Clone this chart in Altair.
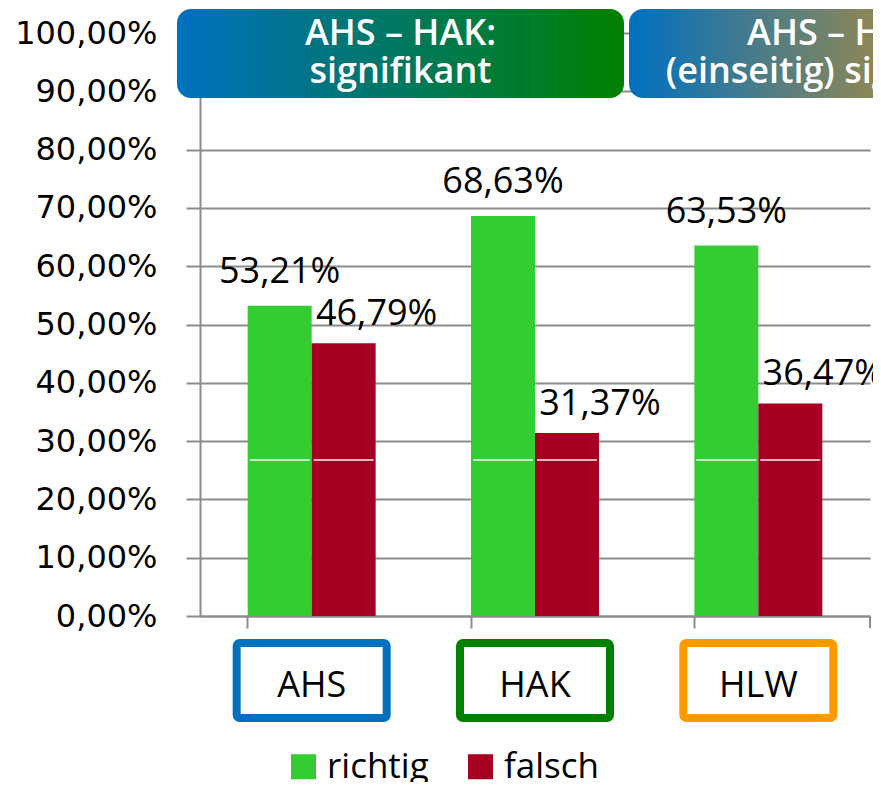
import altair as alt
import pandas as pd

categories = ["AHS", "HAK", "HLW"]
series_names = ["richtig", "falsch"]
richtig = [0.5321, 0.6863, 0.6353]
falsch = [0.4679, 0.3137, 0.3647]
series_colors = ["#33CC33", "#A50021"]
box_colors = ["#0070C0", "#008000", "#FF9900"]
y_ticks = [0.0, 0.1, 0.2, 0.3, 0.4, 0.5, 0.6, 0.7, 0.8, 0.9, 1.0]
banner1_text = "AHS – HAK:\nsignifikant"
banner2_text = "AHS – HLW:\n(einseitig) signifikant"

GRID = "#8C8C8C"
W, H = 670, 583

rows = []
for i, c in enumerate(categories):
    rows.append({"cat": c, "serie": "richtig", "value": richtig[i]})
    rows.append({"cat": c, "serie": "falsch", "value": falsch[i]})
df = pd.DataFrame(rows)
df_cat = pd.DataFrame({"cat": categories})
df_ban = pd.DataFrame({"t1": [banner1_text], "t2": [banner2_text]})

fmt = "replace(format(datum.value*100, '.2f'), '.', ',') + '%'"

x = alt.X(
    "cat:N", sort=categories,
    scale=alt.Scale(domain=categories, paddingInner=0.427, paddingOuter=0.2135),
    axis=alt.Axis(title=None, labels=False, bandPosition=0, ticks=True, tickSize=12,
                  tickColor=GRID, tickWidth=2, domainColor=GRID, domainWidth=2, grid=False),
)
xoff = alt.XOffset("serie:N", sort=series_names, scale=alt.Scale(domain=series_names))
y = alt.Y(
    "value:Q", scale=alt.Scale(domain=[0, 1]),
    axis=alt.Axis(title=None, values=y_ticks, labelExpr=fmt, grid=True, gridColor=GRID,
                  gridWidth=2, tickSize=14, tickColor=GRID, tickWidth=2, labelPadding=29,
                  labelFont="DejaVu Sans", labelFontSize=32, labelColor="#000000",
                  labelBaseline="middle", domainColor=GRID, domainWidth=2),
)
color = alt.Color(
    "serie:N", sort=series_names,
    scale=alt.Scale(domain=series_names, range=series_colors),
    legend=alt.Legend(title=None, orient="none", legendX=86, legendY=716, direction="horizontal",
                      labelFont="Open Sans", labelFontSize=35, labelColor="#000000",
                      symbolType="square", symbolSize=625, symbolStrokeWidth=0,
                      columnPadding=34, labelOffset=6),
)

base = alt.Chart(df)
bars = base.mark_bar().encode(x=x, xOffset=xoff, y=y, color=color)

artifact = base.mark_tick(color="white", thickness=2, size=60).encode(
    x=x, xOffset=xoff, y=alt.datum(0.2676)
)

lab_r = base.transform_filter("datum.serie == 'richtig'").transform_calculate(
    label=fmt
).mark_text(font="Open Sans", fontSize=36, baseline="alphabetic", dy=-23, color="#000000").encode(
    x=x, xOffset=xoff, y="value:Q", text="label:N"
)
lab_f = base.transform_filter("datum.serie == 'falsch'").transform_calculate(
    label=fmt
).mark_text(font="Open Sans", fontSize=36, baseline="alphabetic", dy=-18, dx=33, color="#000000").encode(
    x=x, xOffset=xoff, y="value:Q", text="label:N"
)

boxes = alt.Chart(df_cat).mark_bar(width=150, fill="white", strokeWidth=8, cornerRadius=3).encode(
    x=x,
    y=alt.value(610), y2=alt.value(685),
    stroke=alt.Stroke("cat:N", scale=alt.Scale(domain=categories, range=box_colors), legend=None),
)
box_text = alt.Chart(df_cat).mark_text(font="Open Sans", fontSize=36, baseline="alphabetic",
                                        color="#000000").encode(
    x=x, y=alt.value(664), text="cat:N"
)

end_tick = alt.Chart(df_cat).mark_rule(color=GRID, strokeWidth=2).encode(
    x=alt.value(W), y=alt.value(H), y2=alt.value(H + 12)
)

ban1 = alt.Chart(df_ban).mark_rect(
    cornerRadius=14,
    fill=alt.Gradient(gradient="linear", x1=0, y1=0, x2=1, y2=0,
                      stops=[alt.GradientStop(color="#0070C0", offset=0),
                             alt.GradientStop(color="#008000", offset=1)]),
).encode(x=alt.value(-23), x2=alt.value(424), y=alt.value(-24), y2=alt.value(65))
ban2 = alt.Chart(df_ban).mark_rect(
    cornerRadius=14,
    fill=alt.Gradient(gradient="linear", x1=0, y1=0, x2=1, y2=0,
                      stops=[alt.GradientStop(color="#0070C0", offset=0),
                             alt.GradientStop(color="#FF9900", offset=1)]),
).encode(x=alt.value(429), x2=alt.value(874), y=alt.value(-24), y2=alt.value(65))
ban1_t = alt.Chart(df_ban).mark_text(font="Open Sans", fontSize=36, fontWeight=600, color="white",
                                      align="center", baseline="alphabetic", lineBreak="\n",
                                      lineHeight=38).encode(
    x=alt.value(200.5), y=alt.value(12), text="t1:N"
)
ban2_t = alt.Chart(df_ban).mark_text(font="Open Sans", fontSize=36, fontWeight=600, color="white",
                                      align="center", baseline="alphabetic", lineBreak="\n",
                                      lineHeight=38).encode(
    x=alt.value(646), y=alt.value(12), text="t2:N"
)

chart = alt.layer(
    bars, artifact, lab_r, lab_f, boxes, box_text, end_tick, ban1, ban2, ban1_t, ban2_t
).properties(
    width=W, height=H,
    padding={"left": 192, "top": 25, "right": 3, "bottom": 166},
    autosize=alt.AutoSizeParams(type="none"),
).configure_view(stroke=None)

chart.save("out.html", embed_options={"renderer": "svg", "actions": False})
